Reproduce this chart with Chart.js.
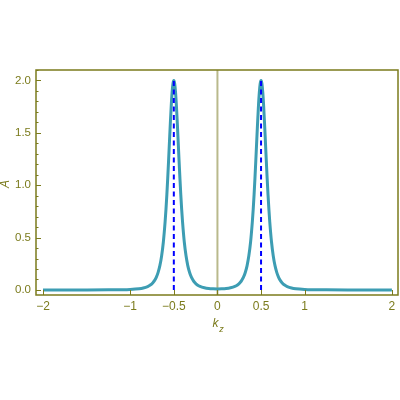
<!DOCTYPE html>
<html>
<head>
<meta charset="utf-8">
<script src="https://cdn.jsdelivr.net/npm/chart.js@4/dist/chart.umd.min.js"></script>
<style>
  html, body { margin: 0; padding: 0; background: #fff; }
  #wrap { width: 400px; height: 400px; }
</style>
</head>
<body>
<div id="wrap"><canvas id="chart" width="400" height="400"></canvas></div>
<script>
const kz = [
  -2, -1.5, -1.25, -1.1, -1.0, -0.9, -0.85, -0.8, -0.77, -0.74, -0.72, -0.70, -0.68, -0.66, -0.64, -0.62,
  -0.60, -0.59, -0.58, -0.57, -0.56, -0.55, -0.54, -0.53, -0.52, -0.51, -0.50,
  -0.49, -0.48, -0.47, -0.46, -0.45, -0.44, -0.43, -0.42, -0.41, -0.40,
  -0.38, -0.36, -0.34, -0.32, -0.30, -0.28, -0.26, -0.23, -0.20, -0.15, -0.10, -0.05, 0,
  0.05, 0.10, 0.15, 0.20, 0.23, 0.26, 0.28, 0.30, 0.32, 0.34, 0.36, 0.38, 0.40,
  0.41, 0.42, 0.43, 0.44, 0.45, 0.46, 0.47, 0.48, 0.49, 0.50,
  0.51, 0.52, 0.53, 0.54, 0.55, 0.56, 0.57, 0.58, 0.59, 0.60,
  0.62, 0.64, 0.66, 0.68, 0.70, 0.72, 0.74, 0.77, 0.80, 0.85, 0.90, 1.0, 1.1, 1.25, 1.5, 2
];
const spectralA = [
  0, 0.0003, 0.0011, 0.0025, 0.0051, 0.0117, 0.019, 0.033, 0.047, 0.070, 0.092, 0.123, 0.168, 0.232, 0.325, 0.458,
  0.649, 0.769, 0.908, 1.065, 1.236, 1.415, 1.592, 1.753, 1.884, 1.970, 2.000,
  1.970, 1.884, 1.753, 1.592, 1.415, 1.236, 1.065, 0.908, 0.769, 0.650,
  0.458, 0.326, 0.233, 0.169, 0.124, 0.094, 0.071, 0.048, 0.034, 0.021, 0.014, 0.011, 0.010,
  0.011, 0.014, 0.021, 0.034, 0.048, 0.071, 0.094, 0.124, 0.169, 0.233, 0.326, 0.458, 0.650,
  0.769, 0.908, 1.065, 1.236, 1.415, 1.592, 1.753, 1.884, 1.970, 2.000,
  1.970, 1.884, 1.753, 1.592, 1.415, 1.236, 1.065, 0.908, 0.769, 0.649,
  0.458, 0.325, 0.232, 0.168, 0.123, 0.092, 0.070, 0.047, 0.033, 0.019, 0.0117, 0.0051, 0.0025, 0.0011, 0.0003, 0
];

// peak markers (dashed lines)
const peakKz = [-0.5, 0.5];
const peakHeight = 2;

// ticks
const xTicks = [-2, -1, -0.5, 0, 0.5, 1, 2];
const yTicks = [0, 0.5, 1.0, 1.5, 2.0];
const yMinorTicks = [0.1, 0.2, 0.3, 0.4, 0.6, 0.7, 0.8, 0.9, 1.1, 1.2, 1.3, 1.4, 1.6, 1.7, 1.8, 1.9, 2.1];

const FRAME = '#7b7b1c';
const LABEL = '#7b7b1c';
const ZERO_LINE = '#b9b98c';
const CURVE = '#3d9db3';
const FONT = '"Liberation Sans", Arial, sans-serif';

function fmtX(v) {
  const s = String(v);
  return v < 0 ? '\u2212' + s.slice(1) : s;
}

// frame, inward ticks, zero line and axis titles
const framePlugin = {
  id: 'frame',
  beforeDatasetsDraw(chart) {
    const { ctx, chartArea: a, scales: { x } } = chart;
    const px = x.getPixelForValue(0);
    ctx.save();
    ctx.strokeStyle = ZERO_LINE;
    ctx.lineWidth = 2;
    ctx.beginPath();
    ctx.moveTo(px, a.top);
    ctx.lineTo(px, a.bottom);
    ctx.stroke();
    ctx.restore();
  },
  afterDraw(chart) {
    const { ctx, chartArea: a, scales: { x, y } } = chart;
    ctx.save();
    ctx.strokeStyle = FRAME;
    ctx.lineWidth = 1.5;
    ctx.strokeRect(a.left, a.top, a.right - a.left, a.bottom - a.top);

    ctx.lineWidth = 1;
    ctx.beginPath();
    xTicks.forEach(v => {
      const px = Math.round(x.getPixelForValue(v)) + 0.5;
      ctx.moveTo(px, a.bottom);
      ctx.lineTo(px, a.bottom - 5);
    });
    yTicks.forEach(v => {
      const py = Math.round(y.getPixelForValue(v)) + 0.5;
      ctx.moveTo(a.left, py);
      ctx.lineTo(a.left + 5, py);
    });
    yMinorTicks.forEach(v => {
      const py = Math.round(y.getPixelForValue(v)) + 0.5;
      ctx.moveTo(a.left, py);
      ctx.lineTo(a.left + 2.5, py);
    });
    ctx.stroke();

    // axis titles
    ctx.fillStyle = LABEL;
    ctx.textAlign = 'center';
    ctx.textBaseline = 'middle';
    ctx.font = 'italic 12px ' + FONT;
    ctx.save();
    ctx.translate(6, 184);
    ctx.rotate(-Math.PI / 2);
    ctx.fillText('A', 0, 0);
    ctx.restore();

    const cx = x.getPixelForValue(0);
    ctx.font = 'italic 12px ' + FONT;
    ctx.fillText('k', cx - 2, 324);
    ctx.font = 'italic 9px ' + FONT;
    ctx.fillText('z', cx + 4, 329);
    ctx.restore();
  }
};

const datasets = peakKz.map(k => ({
  data: [{ x: k, y: 0 }, { x: k, y: peakHeight }],
  borderColor: '#0000ff',
  borderWidth: 2,
  borderDash: [5, 3.5],
  pointRadius: 0,
  showLine: true,
  order: 0
}));
datasets.push({
  data: kz.map((k, i) => ({ x: k, y: spectralA[i] })),
  borderColor: CURVE,
  borderWidth: 3,
  pointRadius: 0,
  showLine: true,
  cubicInterpolationMode: 'monotone',
  order: 1
});

new Chart(document.getElementById('chart'), {
  type: 'scatter',
  data: { datasets },
  plugins: [framePlugin],
  options: {
    responsive: false,
    animation: false,
    devicePixelRatio: 1,
    layout: { padding: { top: 70, right: 2, bottom: 0, left: 0 } },
    plugins: { legend: { display: false }, tooltip: { enabled: false } },
    scales: {
      x: {
        type: 'linear',
        min: -2.08,
        max: 2.07,
        afterFit: s => { s.height = 105; },
        afterBuildTicks: s => { s.ticks = xTicks.map(v => ({ value: v })); },
        grid: { display: false, drawTicks: false },
        border: { display: false },
        ticks: {
          color: LABEL,
          font: { family: FONT, size: 12 },
          padding: 4,
          maxRotation: 0,
          autoSkip: false,
          callback: v => fmtX(v)
        }
      },
      y: {
        type: 'linear',
        min: -0.048,
        max: 2.1,
        afterFit: s => { s.width = 36; },
        afterBuildTicks: s => { s.ticks = yTicks.map(v => ({ value: v })); },
        grid: { display: false, drawTicks: false },
        border: { display: false },
        ticks: {
          color: LABEL,
          font: { family: FONT, size: 11.5 },
          padding: 5,
          autoSkip: false,
          callback: v => v.toFixed(1)
        }
      }
    }
  }
});
</script>
</body>
</html>
